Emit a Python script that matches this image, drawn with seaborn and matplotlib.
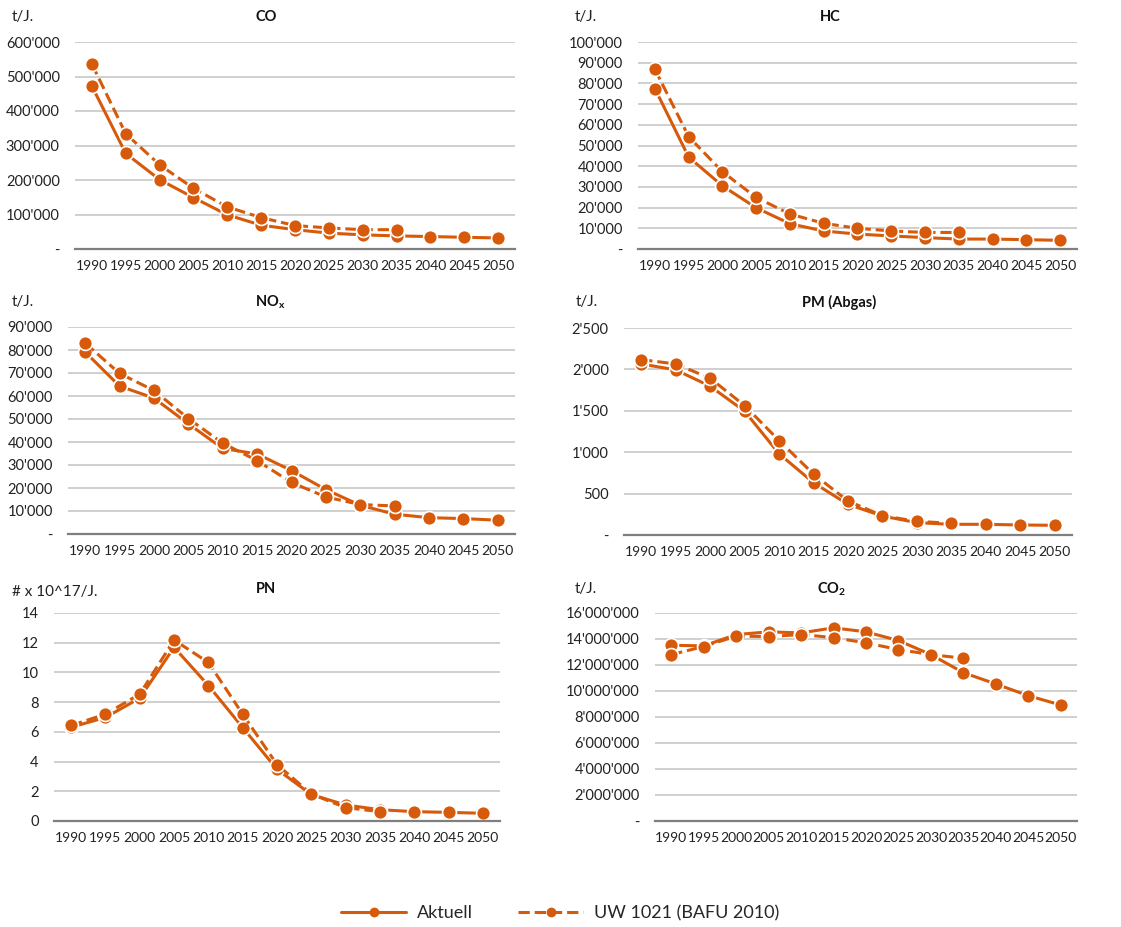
import numpy as np
import pandas as pd
import matplotlib
matplotlib.use('Agg')
import matplotlib.pyplot as plt
import seaborn as sns
from matplotlib.lines import Line2D
from matplotlib.ticker import FuncFormatter

sns.set_theme(style='white')
plt.rcParams['font.family'] = ['Lato', 'DejaVu Sans']
plt.rcParams['mathtext.fontset'] = 'custom'
plt.rcParams['mathtext.rm'] = 'Lato'
plt.rcParams['mathtext.bf'] = 'Lato:bold'

years = [1990, 1995, 2000, 2005, 2010, 2015, 2020, 2025, 2030, 2035, 2040, 2045, 2050]
years_uw = years[:10]

co_akt = [472000, 277000, 201000, 149000, 99000, 69000, 56000, 46000, 41000, 38000, 36000, 34000, 32000]
co_uw = [536000, 334000, 244000, 176000, 122000, 91000, 68000, 61000, 56000, 56000]

hc_akt = [77500, 44400, 30500, 19900, 12200, 8700, 7200, 6300, 5500, 4800, 4800, 4500, 4200]
hc_uw = [86800, 54300, 37300, 24900, 16900, 12400, 10000, 8700, 8000, 8000]

nox_akt = [79100, 64300, 59100, 47900, 37200, 34800, 27600, 19300, 12500, 8600, 7100, 6700, 6000]
nox_uw = [83000, 69800, 62400, 50200, 39500, 31900, 22400, 16100, 12800, 12200]

pm_akt = [2066, 1994, 1797, 1495, 981, 631, 370, 229, 149, 129, 129, 121, 117]
pm_uw = [2118, 2066, 1893, 1563, 1141, 735, 410, 233, 165, 141]

pn_akt = [6.31, 6.97, 8.27, 11.69, 9.12, 6.29, 3.48, 1.78, 1.08, 0.76, 0.63, 0.58, 0.52]
pn_uw = [6.43, 7.19, 8.54, 12.18, 10.67, 7.19, 3.80, 1.82, 0.90, 0.63]

co2_akt = [13520000, 13470000, 14340000, 14550000, 14470000, 14860000, 14550000,
           13880000, 12800000, 11410000, 10540000, 9640000, 8920000]
co2_uw = [12800000, 13420000, 14220000, 14190000, 14340000, 14110000, 13700000,
          13190000, 12800000, 12520000]

orange = '#D75A0B'
W, H = 1121, 927
fig = plt.figure(figsize=(W / 100, H / 100), dpi=100)


def apo(v, pos):
    if v == 0:
        return '-'
    return f"{int(round(v)):,}".replace(',', "'")


def plain(v, pos):
    return f"{int(round(v))}"


panels = [
    # title, unit, akt, uw, ymax, step, formatter, plot box, unit pos, title pos
    ('CO', 't/J.', co_akt, co_uw, 600000, 100000, apo, (75, 42, 515, 249), (12, 17), (266, 17)),
    ('HC', 't/J.', hc_akt, hc_uw, 100000, 10000, apo, (638, 42, 1077, 249), (575, 17), (830, 17)),
    (r'NO$_\mathbf{x}$', 't/J.', nox_akt, nox_uw, 90000, 10000, apo, (68, 327, 515, 534), (12, 302), (270, 302)),
    ('PM (Abgas)', 't/J.', pm_akt, pm_uw, 2500, 500, apo, (624, 328, 1072, 535), (576, 302), (839, 302)),
    ('PN', '# x 10^17/J.', pn_akt, pn_uw, 14, 2, plain, (54, 613, 500, 821), (12, 592), (266, 589)),
    (r'CO$_\mathbf{2}$', 't/J.', co2_akt, co2_uw, 16000000, 2000000, apo, (655, 613, 1077, 821), (575, 589), (832, 589)),
]

for title, unit, akt, uw, ymax, step, fmt, box, upos, tpos in panels:
    x0, y0, x1, y1 = box
    ax = fig.add_axes([x0 / W, 1 - y1 / H, (x1 - x0) / W, (y1 - y0) / H])
    sns.lineplot(x=years, y=akt, ax=ax, color=orange, linewidth=2.2, marker='o',
                 markersize=10, markeredgecolor='white', markeredgewidth=1.2)
    sns.lineplot(x=years_uw, y=uw, ax=ax, color=orange, linewidth=2.2, linestyle='--',
                 marker='o', markersize=10, markeredgecolor='white', markeredgewidth=1.2)
    ax.set_xlim(1987.5, 2052.5)
    ax.set_ylim(0, ymax)
    ax.set_xticks(years)
    ax.set_yticks(np.arange(0, ymax + step / 2, step))
    ax.yaxis.set_major_formatter(FuncFormatter(fmt))
    ax.grid(axis='y', color='#cccccc', linewidth=1.3)
    ax.set_axisbelow(True)
    for s in ['top', 'right', 'left']:
        ax.spines[s].set_visible(False)
    ax.spines['bottom'].set_color('#7f7f7f')
    ax.spines['bottom'].set_linewidth(1.6)
    ax.tick_params(axis='both', length=0, colors='#222222')
    ax.tick_params(axis='y', pad=11, labelsize=10.5)
    ax.tick_params(axis='x', pad=8, labelsize=10)
    ax.set_xlabel('')
    ax.set_ylabel('')
    fig.text(upos[0] / W, 1 - upos[1] / H, unit, fontsize=11, color='#222222',
             ha='left', va='center')
    fig.text(tpos[0] / W, 1 - tpos[1] / H, title, fontsize=10.5, fontweight='bold',
             color='#111111', ha='center', va='center')

handles = [
    Line2D([], [], color=orange, linewidth=2.2, marker='o', markersize=6),
    Line2D([], [], color=orange, linewidth=2.2, linestyle='--', marker='o', markersize=6),
]
fig.legend(handles, ['Aktuell', 'UW 1021 (BAFU 2010)'], loc='center',
           bbox_to_anchor=(0.5, 1 - 913 / H), ncol=2, frameon=False, fontsize=13,
           handlelength=3.6, columnspacing=2.5, handletextpad=0.6)

fig.savefig('out.png', dpi=100)
